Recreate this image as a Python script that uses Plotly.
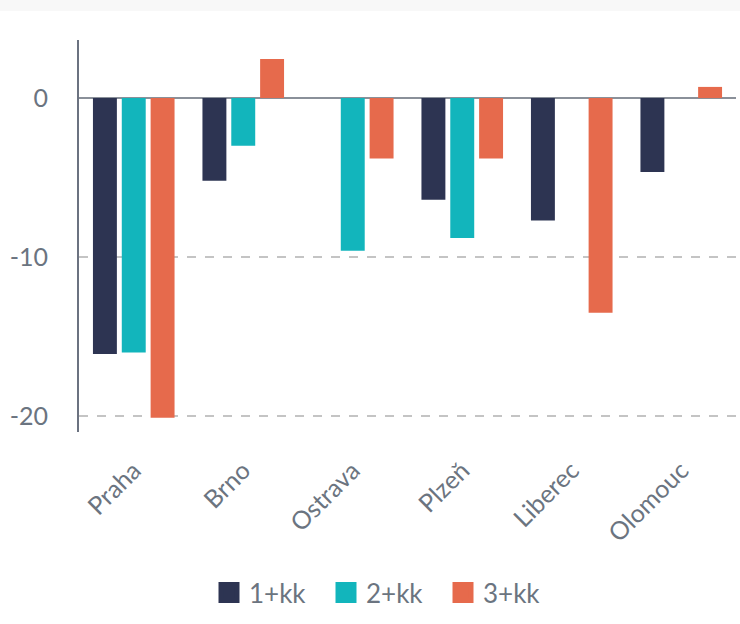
import plotly.graph_objects as go

cities = ["Praha", "Brno", "Ostrava", "Plzeň", "Liberec", "Olomouc"]
s1 = [-16.1, -5.2, None, -6.4, -7.7, -4.65]
s2 = [-16.0, -3.0, -9.6, -8.8, None, None]
s3 = [-20.1, 2.45, -3.8, -3.8, -13.5, 0.7]
series_names = ["1+kk", "2+kk", "3+kk"]
colors = ["#2D3452", "#12B5BC", "#E66A4C"]
y_ticks = [0, -10, -20]

FONT = "Lato"
TXT = "#6B7480"

fig = go.Figure()
for name, vals, col in zip(series_names, [s1, s2, s3], colors):
    fig.add_trace(go.Bar(x=cities, y=vals, name=name, marker_color=col,
                         marker_line_width=0, showlegend=False))
# legend proxies
for name, col in zip(series_names, colors):
    fig.add_trace(go.Scatter(x=[None], y=[None], mode="markers", name=name,
                             marker=dict(symbol="square", size=20, color=col,
                                         line=dict(color=col, width=5))))

fig.update_layout(
    width=740, height=624,
    margin=dict(l=79, r=4, t=40, b=192),
    paper_bgcolor="white", plot_bgcolor="white",
    font=dict(family=FONT, color=TXT, size=22),
    barmode="group", bargap=0.21, bargroupgap=0.17,
    legend=dict(orientation="h", x=0.465, xanchor="center", y=-0.41, yanchor="middle",
                font=dict(size=26, color=TXT), itemsizing="trace", traceorder="normal",
                entrywidth=72),
    xaxis=dict(tickangle=-45, tickfont=dict(size=25, color=TXT), showline=False,
               showgrid=False, ticks="", range=[-0.5, 5.5], ticklabelstandoff=18),
    yaxis=dict(range=[-21.0, 3.65], tickvals=y_ticks, ticktext=[str(v) for v in y_ticks],
               showgrid=True, gridcolor="#C4C4C4", griddash="dash", gridwidth=1.5,
               zeroline=True, zerolinecolor="#8A9099", zerolinewidth=2,
               showline=True, linecolor="#6B7280", linewidth=2,
               ticks="", tickfont=dict(size=25, color=TXT), ticklabelstandoff=24),
    shapes=[dict(type="rect", xref="paper", yref="paper", x0=-0.2, x1=1.1,
                 y0=1.074, y1=1.2, fillcolor="#F8F8F8", line_width=0, layer="below")],
)

fig.write_html("out.html")
